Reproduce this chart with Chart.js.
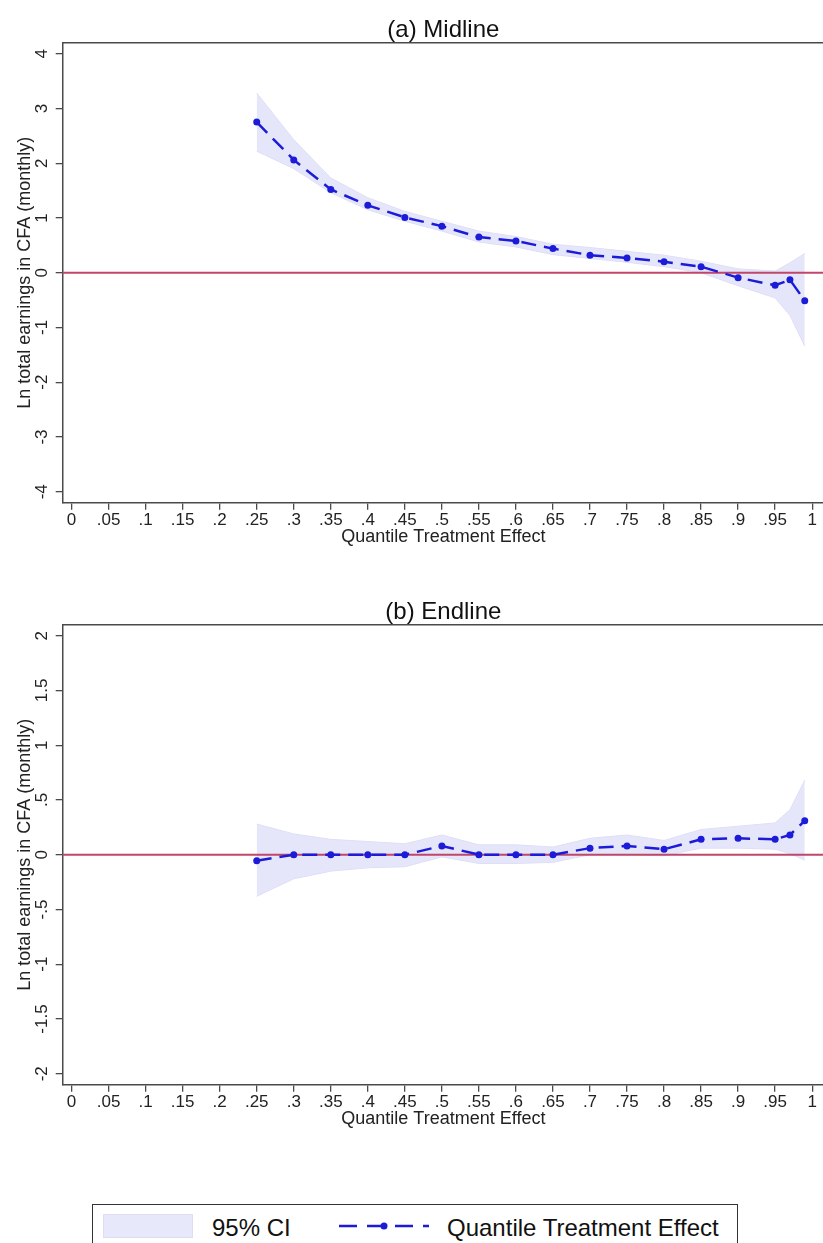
<!DOCTYPE html>
<html>
<head>
<meta charset="utf-8">
<script src="https://cdn.jsdelivr.net/npm/chart.js@4.4.1/dist/chart.umd.min.js"></script>
<style>
  body { margin: 0; background: #fff; overflow: hidden; }
  #page { position: relative; width: 823px; height: 1243px; overflow: hidden; font-family: "Liberation Sans", Arial, sans-serif; }
  canvas { position: absolute; left: 0; }
  #legend { position: absolute; left: 92px; top: 1204px; width: 644px; height: 70px; border: 1.5px solid #333; }
  .lg { position: absolute; font-size: 24px; line-height: 24px; color: #111; white-space: nowrap; }
</style>
</head>
<body>
<div id="page">
  <!-- o Chart.js deixa 5px a direita; a tela passa da borda e e cortada -->
  <canvas id="graficoMid" width="828" height="560" style="top:0"></canvas>
  <canvas id="graficoEnd" width="828" height="560" style="top:582px"></canvas>
  <div id="legend">
    <div style="position:absolute;left:10px;top:9px;width:88px;height:22px;background:#e8e8fb;border:1px solid #dcdcf4"></div>
    <div class="lg" style="left:119px;top:11px">95% CI</div>
    <svg style="position:absolute;left:246px;top:13px" width="90" height="16">
      <line x1="0" y1="8" x2="90" y2="8" stroke="#1c1cd8" stroke-width="2.5" stroke-dasharray="18 10"/>
      <circle cx="45" cy="8" r="3.5" fill="#1c1cd8"/>
    </svg>
    <div class="lg" style="left:354px;top:11px">Quantile Treatment Effect</div>
  </div>
</div>
<script>
// Quantis estimados
const quantiles = [0.25, 0.30, 0.35, 0.40, 0.45, 0.50, 0.55, 0.60, 0.65, 0.70, 0.75, 0.80, 0.85, 0.90, 0.95, 0.97, 0.99];

// (a) Midline
const qteMid  = [2.75, 2.06, 1.52, 1.23, 1.01, 0.85, 0.65, 0.58, 0.44, 0.32, 0.27, 0.20, 0.11, -0.09, -0.23, -0.13, -0.51];
const ciHiMid = [3.28, 2.43, 1.73, 1.37, 1.12, 0.94, 0.76, 0.66, 0.52, 0.46, 0.39, 0.32, 0.21, 0.07, 0.03, 0.18, 0.35];
const ciLoMid = [2.22, 1.90, 1.46, 1.15, 0.94, 0.76, 0.56, 0.47, 0.33, 0.26, 0.19, 0.11, 0.00, -0.24, -0.46, -0.78, -1.34];

// (b) Endline
const qteEnd  = [-0.055, 0.00, 0.00, 0.00, 0.00, 0.08, 0.00, 0.00, 0.00, 0.06, 0.08, 0.05, 0.14, 0.15, 0.14, 0.18, 0.31];
const ciHiEnd = [0.28, 0.19, 0.14, 0.12, 0.10, 0.18, 0.09, 0.09, 0.07, 0.15, 0.18, 0.13, 0.23, 0.26, 0.29, 0.41, 0.68];
const ciLoEnd = [-0.38, -0.22, -0.15, -0.12, -0.11, -0.02, -0.08, -0.08, -0.07, 0.00, 0.00, -0.01, 0.06, 0.06, 0.05, 0.01, -0.05];

// Ticks (estilo Stata)
const xTicks = [0, 0.05, 0.1, 0.15, 0.2, 0.25, 0.3, 0.35, 0.4, 0.45, 0.5, 0.55, 0.6, 0.65, 0.7, 0.75, 0.8, 0.85, 0.9, 0.95, 1];
const xTickLabels = ["0", ".05", ".1", ".15", ".2", ".25", ".3", ".35", ".4", ".45", ".5", ".55", ".6", ".65", ".7", ".75", ".8", ".85", ".9", ".95", "1"];
const yTicksMid = [-4, -3, -2, -1, 0, 1, 2, 3, 4];
const yTickLabelsMid = ["-4", "-3", "-2", "-1", "0", "1", "2", "3", "4"];
const yTicksEnd = [-2, -1.5, -1, -0.5, 0, 0.5, 1, 1.5, 2];
const yTickLabelsEnd = ["-2", "-1.5", "-1", "-.5", "0", ".5", "1", "1.5", "2"];

const refLine = 0;
const fonte = '"Liberation Sans", Arial, sans-serif';
const azul = '#1c1cd8';
const eixo = '#4a4a4a';

// plugin: linha de referencia, borda de cima e rotulos do eixo y girados
const stataFrame = {
    id: 'stataFrame',
    beforeDatasetDraw(chart, args) {
        if (args.index !== 2) return;
        const { ctx, chartArea } = chart;
        const y0 = chart.scales.y.getPixelForValue(refLine);
        ctx.save();
        ctx.strokeStyle = '#c0466a';
        ctx.lineWidth = 2;
        ctx.beginPath();
        ctx.moveTo(chartArea.left, y0);
        ctx.lineTo(chartArea.right, y0);
        ctx.stroke();
        ctx.restore();
    },
    afterDraw(chart, args, opts) {
        const { ctx, chartArea } = chart;
        const sy = chart.scales.y;
        ctx.save();
        ctx.strokeStyle = eixo;
        ctx.lineWidth = 1.5;
        ctx.beginPath();
        ctx.moveTo(chartArea.left, chartArea.top);
        ctx.lineTo(chartArea.right, chartArea.top);
        ctx.stroke();

        ctx.fillStyle = '#222';
        ctx.font = '17px ' + fonte;
        ctx.textAlign = 'center';
        ctx.textBaseline = 'alphabetic';
        opts.values.forEach((v, i) => {
            ctx.save();
            ctx.translate(chartArea.left - 16, sy.getPixelForValue(v));
            ctx.rotate(-Math.PI / 2);
            ctx.fillText(opts.labels[i], 0, 0);
            ctx.restore();
        });
        ctx.restore();
    }
};

function montarGrafico(id, titulo, qte, ciHi, ciLo, yMax, yTicks, yLabels) {
    const pontos = arr => quantiles.map((q, i) => ({ x: q, y: arr[i] }));
    return new Chart(document.getElementById(id), {
        type: 'line',
        data: {
            datasets: [
                { label: '95% CI', data: pontos(ciHi), fill: '+1', backgroundColor: 'rgba(222,222,250,0.75)',
                  borderColor: '#dedef6', borderWidth: 1, pointRadius: 0, order: 2 },
                { label: 'ci-low', data: pontos(ciLo), fill: false, borderColor: '#dedef6', borderWidth: 1,
                  pointRadius: 0, order: 2 },
                { label: 'Quantile Treatment Effect', data: pontos(qte), fill: false, borderColor: azul,
                  borderWidth: 2.5, borderDash: [15, 8], pointRadius: 3.5, pointBackgroundColor: azul,
                  pointBorderWidth: 0, order: 1 }
            ]
        },
        options: {
            responsive: false,
            animation: false,
            layout: { padding: 0 },
            elements: { line: { tension: 0 } },
            scales: {
                x: {
                    type: 'linear', min: -0.012, max: 1.016,
                    afterBuildTicks: s => { s.ticks = xTicks.map(v => ({ value: v })); },
                    afterFit: s => { s.height = 57.3; s.paddingLeft = 0; s.paddingRight = 0; },
                    ticks: { autoSkip: false, maxRotation: 0, minRotation: 0, padding: 0, color: '#222',
                             font: { size: 17, family: fonte }, callback: (v, i) => xTickLabels[i] },
                    grid: { drawOnChartArea: false, drawTicks: true, tickLength: 7, color: eixo, lineWidth: 1.3 },
                    border: { color: eixo, width: 1.5 },
                    title: { display: true, text: 'Quantile Treatment Effect', color: '#222',
                             font: { size: 18, family: fonte }, padding: { top: 0, bottom: 12 } }
                },
                y: {
                    type: 'linear', min: -yMax, max: yMax,
                    afterBuildTicks: s => { s.ticks = yTicks.map(v => ({ value: v })); },
                    afterFit: s => { s.width = 62.7; s.paddingTop = 0; s.paddingBottom = 0; },
                    ticks: { display: false },
                    grid: { drawOnChartArea: false, drawTicks: true, tickLength: 7, color: eixo, lineWidth: 1.3 },
                    border: { color: eixo, width: 1.5 },
                    title: { display: true, text: 'Ln total earnings in CFA (monthly)', color: '#222',
                             font: { size: 18, family: fonte }, padding: { top: 14, bottom: 0 } }
                }
            },
            plugins: {
                legend: { display: false },
                tooltip: { enabled: false },
                title: { display: true, text: titulo, fullSize: false, color: '#111',
                         font: { size: 24, family: fonte, weight: 'normal', lineHeight: 1 },
                         padding: { top: 18, bottom: 0.7 } },
                stataFrame: { values: yTicks, labels: yLabels }
            }
        },
        plugins: [stataFrame]
    });
}

montarGrafico('graficoMid', '(a) Midline', qteMid, ciHiMid, ciLoMid, 4.2, yTicksMid, yTickLabelsMid);
montarGrafico('graficoEnd', '(b) Endline', qteEnd, ciHiEnd, ciLoEnd, 2.1, yTicksEnd, yTickLabelsEnd);
</script>
</body>
</html>
